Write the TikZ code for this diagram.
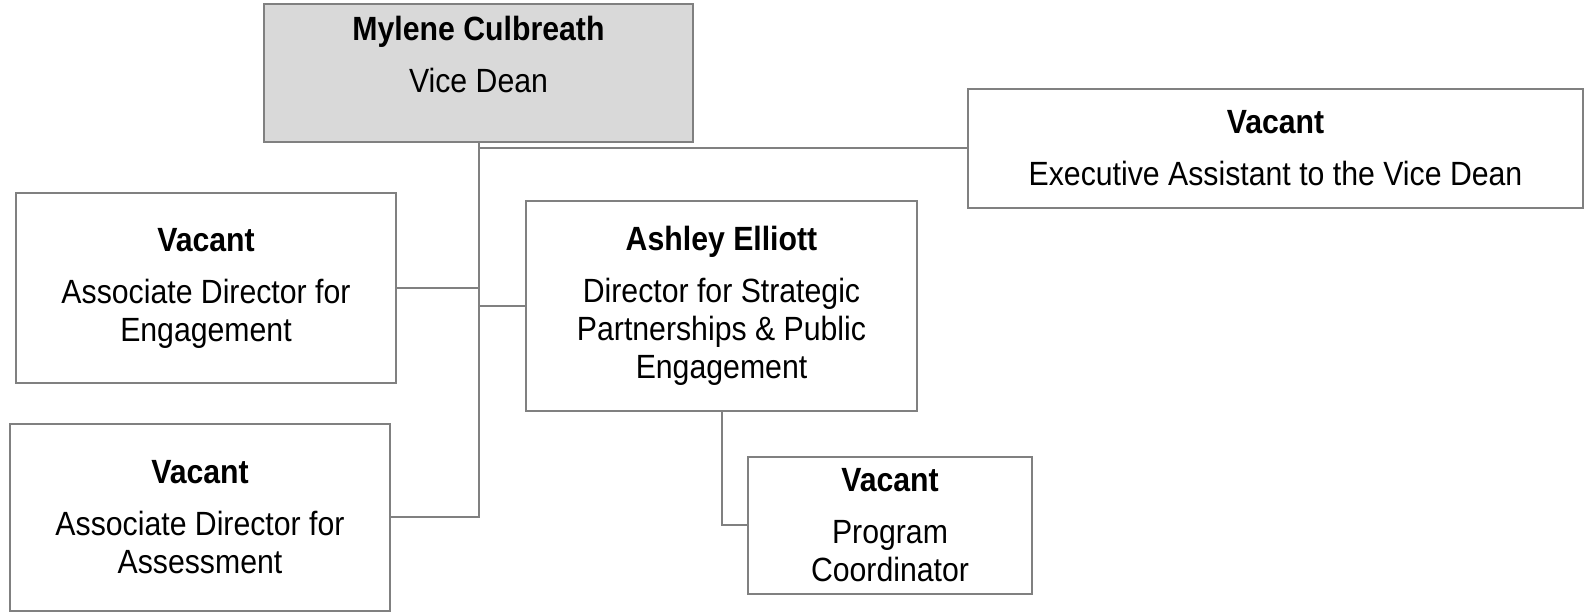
\documentclass[tikz,border=0pt]{standalone}
\usepackage{fontspec}
\setmainfont{Liberation Sans}[FakeStretch=0.9]
\usepackage{tikz}
\definecolor{linegray}{RGB}{128,128,128}
\definecolor{headgray}{RGB}{217,217,217}
\begin{document}
\begin{tikzpicture}[x=0.5pt,y=-0.5pt,every node/.style={shape=rectangle,draw=linegray,line width=1pt,fill=white,inner sep=0pt,align=center,font=\fontsize{16.8}{19}\selectfont},]
		\useasboundingbox (0,0) rectangle (1589,613);
		% create the nodes
		\node (vd) [fill=headgray,minimum width=214.5pt,minimum height=69pt] at (478.5,73) {\textbf{Mylene Culbreath}\\[7pt]Vice Dean\\\phantom{V}};
		\node (ea) [minimum width=307.5pt,minimum height=59.5pt] at (1275.5,148.5) {\textbf{Vacant}\\[7pt]Executive Assistant to the Vice Dean};
		\node (ade) [minimum width=190pt,minimum height=95pt] at (206,288) {\textbf{Vacant}\\[7pt]Associate Director for\\Engagement};
		\node (ada) [minimum width=190pt,minimum height=93.5pt] at (200,517.5) {\textbf{Vacant}\\[7pt]Associate Director for\\Assessment};
		\node (ae) [minimum width=195.5pt,minimum height=105pt] at (721.5,306) {\textbf{Ashley Elliott}\\[7pt]Director for Strategic\\Partnerships \& Public\\Engagement};
		\node (pc) [minimum width=142pt,minimum height=68.5pt] at (890,525.5) {\textbf{Vacant}\\[7pt]Program\\Coordinator};

		% connect the nodes
		\draw[linegray,line width=1pt] (vd.south) |- (ea.west);
		\draw[linegray,line width=1pt] (vd.south) |- (ade.east);
		\draw[linegray,line width=1pt] (vd.south) |- (ae.west);
		\draw[linegray,line width=1pt] (vd.south) |- (ada.east);
		\draw[linegray,line width=1pt] (ae.south) |- (pc.west);
	\end{tikzpicture}
\end{document}
